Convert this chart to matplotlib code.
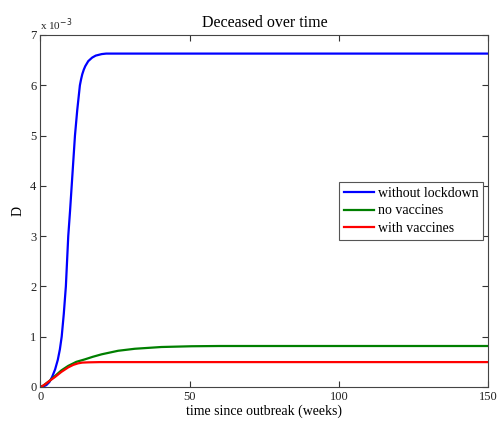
import matplotlib
matplotlib.use("Agg")
import matplotlib.pyplot as plt

plt.rcParams['font.family'] = ['Liberation Serif', 'DejaVu Serif']

# time (weeks) and deceased fraction (x 1e-3)
t_blue = [0, 1, 2, 3, 3.9, 4.9, 5.8, 6.5, 7.1, 7.8, 8.5, 8.9, 9.3, 9.9, 10.45, 11.0, 11.55, 12.3, 13.2,
          13.6, 14.0, 14.5, 15.0, 16.0, 17.3, 18.5, 20.5, 22, 25, 150]
d_blue = [0, 0.01, 0.04, 0.1, 0.2, 0.35, 0.54, 0.75, 1.0, 1.45, 2.0, 2.5, 3.0, 3.5, 4.0, 4.5, 5.0, 5.5, 6.0,
          6.12, 6.22, 6.31, 6.38, 6.48, 6.55, 6.59, 6.62, 6.63, 6.63, 6.63]

t_green = [0, 1, 3, 4.9, 7, 9.3, 12, 14.9, 17.5, 20.5, 26, 31.6, 40.5, 50.6, 60, 150]
d_green = [0, 0.03, 0.12, 0.22, 0.33, 0.42, 0.5, 0.55, 0.6, 0.65, 0.72, 0.76, 0.795, 0.81, 0.815, 0.815]

t_red = [0, 1, 3, 4.9, 7, 9.3, 11, 12.6, 14, 16, 20, 150]
d_red = [0, 0.03, 0.12, 0.2, 0.3, 0.39, 0.44, 0.47, 0.485, 0.49, 0.495, 0.495]

labels = ['without lockdown', 'no vaccines', 'with vaccines']
colors = ['#0000ff', '#007f00', '#ff0000']

xticks = [0, 50, 100, 150]
yticks = [0, 1, 2, 3, 4, 5, 6, 7]

fig = plt.figure(figsize=(4.98, 4.21), dpi=100)
ax = fig.add_axes([0.0813, 0.0808, 0.8992, 0.8361])

for t, d, lab, c in zip([t_blue, t_green, t_red], [d_blue, d_green, d_red], labels, colors):
    ax.plot(t, d, color=c, lw=1.6, label=lab)

ax.set_xlim(0, 150)
ax.set_ylim(0, 7)
ax.set_xticks(xticks)
ax.set_yticks(yticks)
ax.tick_params(direction='in', top=True, right=True, labelsize=9, length=4,
               color='#333333', labelcolor='#222222', pad=3)
for s in ax.spines.values():
    s.set_color('#444444')
    s.set_linewidth(0.8)

ax.set_title('Deceased over time', fontsize=11.5, pad=6)
ax.set_xlabel('time since outbreak (weeks)', fontsize=10, labelpad=1)
ax.set_ylabel('D', fontsize=10, labelpad=4)
ax.text(0.0, 1.005, 'x 10$^{-3}$', transform=ax.transAxes, fontsize=8,
        ha='left', va='bottom', color='#222222')

leg = ax.legend(loc='center right', fontsize=10, handlelength=2.2, handletextpad=0.25,
                borderaxespad=0.35, fancybox=False, framealpha=1, edgecolor='#555555',
                labelspacing=0.3, borderpad=0.35)
leg.get_frame().set_linewidth(0.8)

fig.savefig('out.png', dpi=100)
